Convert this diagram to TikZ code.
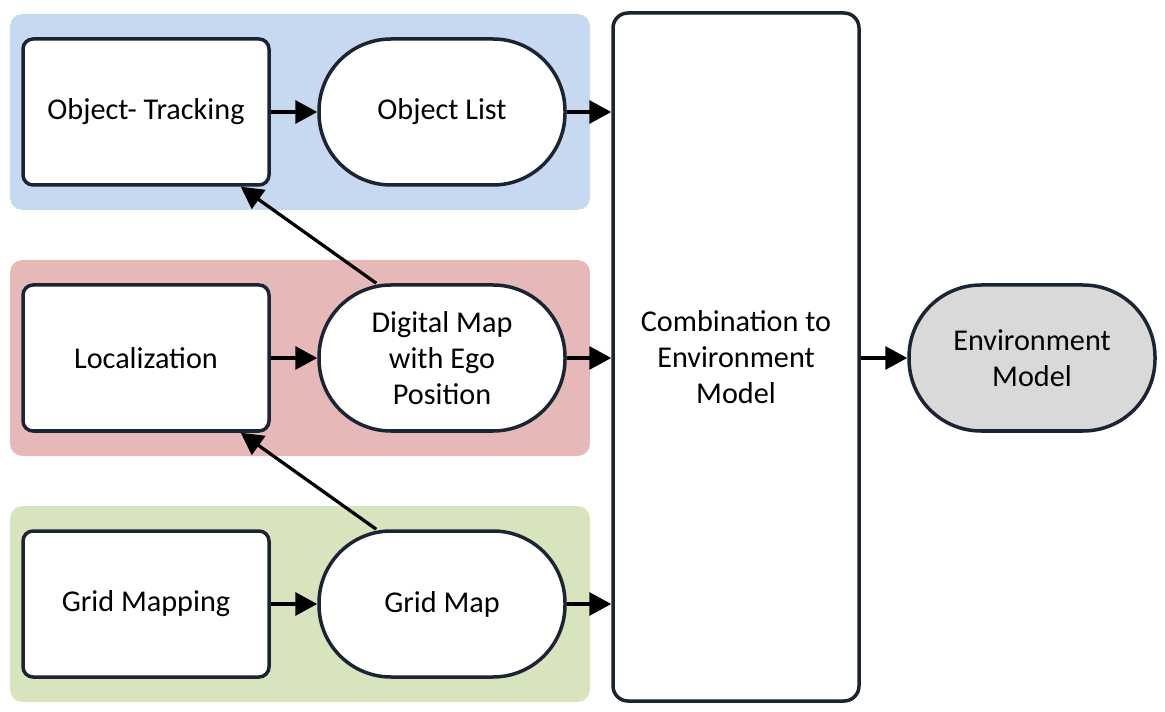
\documentclass[tikz,border=0pt]{standalone}
\usepackage{fontspec}
\setmainfont{Carlito}
\usepackage{tikz}
\usetikzlibrary{arrows.meta, positioning, calc}

\definecolor{edgeblue}{HTML}{1B2433}
\definecolor{bandblue}{HTML}{C6D9F1}
\definecolor{bandred}{HTML}{E6B9B8}
\definecolor{bandgreen}{HTML}{D7E4BD}
\definecolor{modelgray}{HTML}{D9D9D9}

\tikzset{
  procbox/.style={draw=edgeblue, line width=0.07cm, fill=white, rectangle,
    rounded corners=0.2cm, minimum width=4.92cm, minimum height=2.92cm,
    align=center, font=\fontsize{17.2}{20.5}\selectfont},
  databox/.style={procbox, rounded corners=1.44cm},
  flow/.style={line width=0.065cm, -{Triangle[length=0.44cm, width=0.46cm]}},
}

\begin{document}
\begin{tikzpicture}
  \useasboundingbox (0,0) rectangle (23.3,-14.24);
  % Bands
  \fill[bandblue, rounded corners=0.25cm] (0.2,-0.28) rectangle (11.8,-4.2);
  \fill[bandred, rounded corners=0.25cm] (0.2,-5.2) rectangle (11.8,-9.12);
  \fill[bandgreen, rounded corners=0.25cm] (0.2,-10.12) rectangle (11.8,-14.04);
  % Processing steps
  \node[procbox] (tracking) at (2.92,-2.24) {Object- Tracking};
  \node[procbox] (localization) at (2.92,-7.16) {Localization};
  \node[procbox] (gridmapping) at (2.92,-12.08) {Grid Mapping};
  % Intermediate results
  \node[databox] (objlist) at (8.84,-2.24) {Object List};
  \node[databox] (digmap) at (8.84,-7.16) {Digital Map\\with Ego\\Position};
  \node[databox] (gridmap) at (8.84,-12.08) {Grid Map};
  % Fusion and result
  \node[procbox, rounded corners=0.3cm, minimum height=13.76cm] (combination) at (14.72,-7.14) {Combination to\\Environment\\Model};
  \node[databox, fill=modelgray] (envmodel) at (20.64,-7.16) {Environment\\Model};
  % Connectors
  \draw[flow] (tracking) -- (objlist);
  \draw[flow] (localization) -- (digmap);
  \draw[flow] (gridmapping) -- (gridmap);
  \draw[flow] (objlist.east) -- (objlist.east -| combination.west);
  \draw[flow] (digmap.east) -- (digmap.east -| combination.west);
  \draw[flow] (gridmap.east) -- (gridmap.east -| combination.west);
  \draw[flow] (combination.east |- envmodel.west) -- (envmodel.west);
  \draw[flow] ($(digmap.north west)+(1.18,0)$) -- ($(tracking.south east)+(-0.6,0)$);
  \draw[flow] ($(gridmap.north west)+(1.18,0)$) -- ($(localization.south east)+(-0.6,0)$);
\end{tikzpicture}
\end{document}
